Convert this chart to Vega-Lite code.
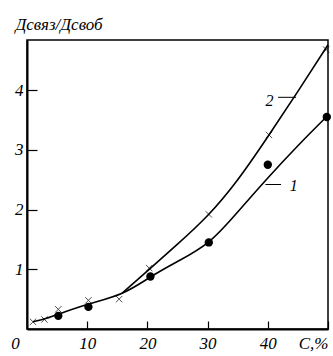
{
  "$schema": "https://vega.github.io/schema/vega-lite/v6.json",
  "width": 301,
  "height": 289,
  "autosize": {"type": "none"},
  "padding": {"left": 27, "top": 40, "right": 5, "bottom": 27},
  "background": "white",
  "config": {
    "view": {"stroke": "black", "strokeWidth": 1.5, "fill": null},
    "font": "Liberation Sans Narrow",
    "axis": {"grid": false, "domainColor": "black", "domainWidth": 2, "tickColor": "black", "tickWidth": 1.2, "zindex": 1,
             "labelFont": "Liberation Sans Narrow", "labelFontStyle": "italic", "labelColor": "black"}
  },
  "datasets": {
    "curves": [
      {"curve": "1", "c": 1, "r": 0.12}, {"curve": "1", "c": 3, "r": 0.17}, {"curve": "1", "c": 5, "r": 0.24}, {"curve": "1", "c": 10, "r": 0.41}, {"curve": "1", "c": 15.8, "r": 0.6},
      {"curve": "1", "c": 20.5, "r": 0.87}, {"curve": "1", "c": 25, "r": 1.13}, {"curve": "1", "c": 30.2, "r": 1.46}, {"curve": "1", "c": 35, "r": 1.96}, {"curve": "1", "c": 40, "r": 2.53}, {"curve": "1", "c": 45, "r": 3.07}, {"curve": "1", "c": 50, "r": 3.58},
      {"curve": "2", "c": 15.8, "r": 0.6}, {"curve": "2", "c": 20.3, "r": 1.0}, {"curve": "2", "c": 25, "r": 1.42}, {"curve": "2", "c": 30, "r": 1.9}, {"curve": "2", "c": 35, "r": 2.5}, {"curve": "2", "c": 40, "r": 3.22}, {"curve": "2", "c": 45, "r": 3.98}, {"curve": "2", "c": 50, "r": 4.76}
    ],
    "crosses": [
      {"c": 1, "r": 0.12}, {"c": 2.9, "r": 0.16}, {"c": 5.2, "r": 0.33}, {"c": 10.2, "r": 0.48}, {"c": 15.3, "r": 0.5},
      {"c": 20.3, "r": 1.02}, {"c": 30.2, "r": 1.92}, {"c": 40.2, "r": 3.25}, {"c": 49.7, "r": 4.68}
    ],
    "dots": [
      {"c": 5.2, "r": 0.22}, {"c": 10.2, "r": 0.37}, {"c": 20.5, "r": 0.88}, {"c": 30.2, "r": 1.45}, {"c": 40, "r": 2.75}, {"c": 49.8, "r": 3.55}
    ],
    "labels": [
      {"name": "2", "c": 40.3, "r": 3.82, "c0": 41.7, "c1": 44.7, "r0": 3.88},
      {"name": "1", "c": 44.3, "r": 2.4, "c0": 39.6, "c1": 42.2, "r0": 2.42}
    ]
  },
  "layer": [
    {
      "data": {"name": "curves"},
      "mark": {"type": "line", "color": "black", "strokeWidth": 1.6, "interpolate": "natural"},
      "encoding": {
        "x": {"field": "c", "type": "quantitative", "scale": {"domain": [0, 50], "nice": false},
              "axis": {"values": [0, 10, 20, 30, 40, 50], "tickSize": -8, "labelPadding": 14, "labelFontSize": 17,
                       "labelExpr": "datum.value == 50 ? 'C,%' : datum.label",
                       "labelOffset": {"condition": {"test": "datum.value == 0", "value": -12}, "value": 0},
                       "labelAlign": {"condition": {"test": "datum.value == 50", "value": "right"}, "value": "center"},
                       "title": null}},
        "y": {"field": "r", "type": "quantitative", "scale": {"domain": [0, 4.84], "nice": false},
              "axis": {"values": [1, 2, 3, 4], "format": "d", "tickSize": -10, "labelPadding": 14, "labelFontSize": 17,
                       "title": "Дсвяз/Дсвоб", "titleAngle": 0, "titleAlign": "left", "titleBaseline": "alphabetic",
                       "titleX": -12, "titleY": -11, "titleFont": "Liberation Sans Narrow", "titleFontStyle": "italic",
                       "titleFontWeight": "normal", "titleFontSize": 17, "titleColor": "black"}},
        "detail": {"field": "curve"}
      }
    },
    {
      "data": {"name": "crosses"},
      "mark": {"type": "point", "shape": "M-1,-1L1,1M-1,1L1,-1", "color": "black", "filled": false, "strokeWidth": 1, "size": 40},
      "encoding": {"x": {"field": "c", "type": "quantitative"}, "y": {"field": "r", "type": "quantitative"}}
    },
    {
      "data": {"name": "dots"},
      "mark": {"type": "circle", "color": "black", "opacity": 1, "size": 70},
      "encoding": {"x": {"field": "c", "type": "quantitative"}, "y": {"field": "r", "type": "quantitative"}}
    },
    {
      "data": {"name": "labels"},
      "mark": {"type": "rule", "color": "black", "strokeWidth": 1},
      "encoding": {"x": {"field": "c0", "type": "quantitative"}, "x2": {"field": "c1"}, "y": {"field": "r0", "type": "quantitative"}}
    },
    {
      "data": {"name": "labels"},
      "mark": {"type": "text", "font": "Liberation Sans Narrow", "fontStyle": "italic", "fontSize": 16, "color": "black"},
      "encoding": {"x": {"field": "c", "type": "quantitative"}, "y": {"field": "r", "type": "quantitative"}, "text": {"field": "name"}}
    }
  ]
}
